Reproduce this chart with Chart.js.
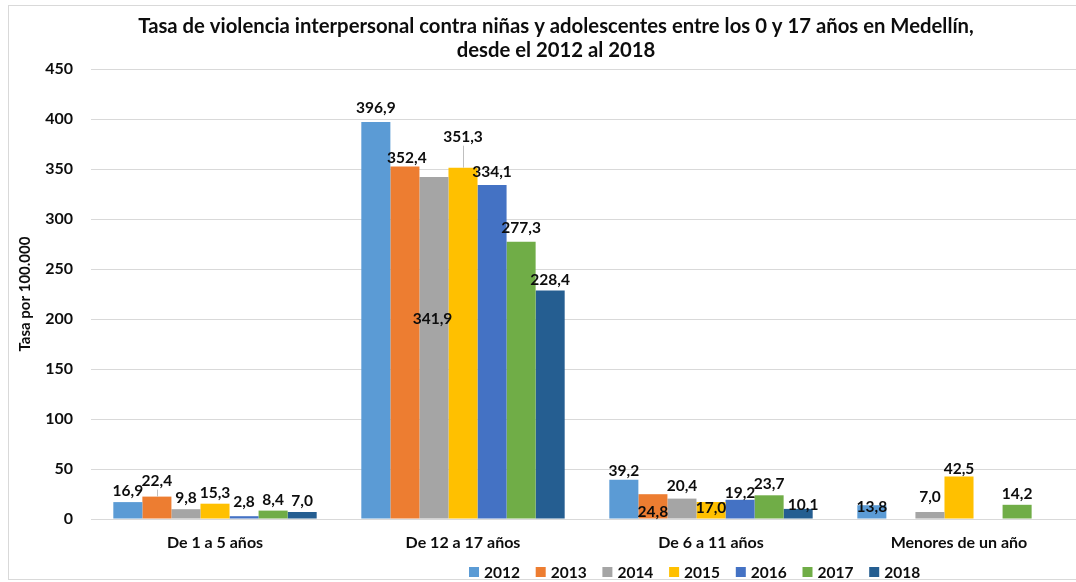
<!DOCTYPE html>
<html><head><meta charset="utf-8">
<script src="https://cdn.jsdelivr.net/npm/chart.js@4"></script>
<style>html,body{margin:0;padding:0;overflow:hidden;background:#fff;} canvas{display:block;}</style>
</head><body>
<canvas id="c" width="1112" height="582"></canvas>
<script>
const titleLines = ["Tasa de violencia interpersonal contra niñas y adolescentes entre los 0 y 17 años en Medellín,", "desde el 2012 al 2018"];
const categories = ["De 1 a 5 años", "De 12 a 17 años", "De 6 a 11 años", "Menores de un año"];
const years = ["2012", "2013", "2014", "2015", "2016", "2017", "2018"];
const v2012 = [16.9, 396.9, 39.2, 13.8];
const v2013 = [22.4, 352.4, 24.8, null];
const v2014 = [9.8, 341.9, 20.4, 7.0];
const v2015 = [15.3, 351.3, 17.0, 42.5];
const v2016 = [2.8, 334.1, 19.2, null];
const v2017 = [8.4, 277.3, 23.7, 14.2];
const v2018 = [7.0, 228.4, 10.1, null];
const yTicks = [0, 50, 100, 150, 200, 250, 300, 350, 400, 450];
const yAxisTitle = "Tasa por 100.000";

const seriesValues = [v2012, v2013, v2014, v2015, v2016, v2017, v2018];
const colors = ['#5B9BD5', '#ED7D31', '#A5A5A5', '#FFC000', '#4472C4', '#70AD47', '#255E91'];
const FONT = 'Lato';
const TXT = '#0d0d0d';

// label nudges (style only): key "dataset-index" -> [dx, dy, leader]
const labelShift = {
  '1-0': [0, -5, true], '4-0': [0, -3],
  '0-1': [0, -3], '1-1': [2, 2], '2-1': [-1.5, 153], '3-1': [0, -20, true], '4-1': [0, -2], '5-1': [0, -3],
  '0-2': [0, 2], '1-2': [0, 29], '2-2': [0, -2], '3-2': [0, 17], '4-2': [0, 4], '6-2': [5, 7],
  '0-3': [0, 13], '2-3': [0, -4], '3-3': [0, 3]
};

const deco = {
  id: 'deco',
  beforeDraw(chart) {
    const c = chart.ctx;
    c.save();
    c.fillStyle = '#fff';
    c.fillRect(0, 0, chart.width, chart.height);
    c.strokeStyle = '#d9d9d9';
    c.lineWidth = 1;
    c.strokeRect(8.5, 5.5, chart.width + 20, 574);
    c.restore();
  },
  afterDatasetsDraw(chart) {
    const c = chart.ctx;
    c.save();
    c.font = 'bold 15.5px ' + FONT;
    c.textAlign = 'center';
    c.textBaseline = 'middle';
    chart.data.datasets.forEach((ds, di) => {
      const meta = chart.getDatasetMeta(di);
      meta.data.forEach((bar, i) => {
        const v = ds.data[i];
        if (v === null || v === undefined) return;
        const s = labelShift[di + '-' + i] || [0, 0];
        const x = bar.x + s[0];
        const y = bar.y - 11 + s[1];
        if (s[2]) {
          c.strokeStyle = '#bfbfbf';
          c.lineWidth = 1;
          c.beginPath();
          c.moveTo(Math.round(x) + 0.5, y + 9);
          c.lineTo(Math.round(bar.x) + 0.5, bar.y);
          c.stroke();
        }
        c.fillStyle = TXT;
        c.fillText(v.toFixed(1).replace('.', ','), x, y);
      });
    });
    c.restore();
  },
  afterDraw(chart) {
    const c = chart.ctx;
    c.save();
    c.fillStyle = TXT;
    c.textAlign = 'center';
    c.textBaseline = 'middle';
    c.font = 'bold 20.3px ' + FONT;
    c.fillText(titleLines[0], 556, 26);
    c.fillText(titleLines[1], 556, 50);
    // legend
    c.font = 'bold 15.5px ' + FONT;
    c.textAlign = 'left';
    let x = 469;
    chart.data.datasets.forEach((ds) => {
      c.fillStyle = ds.backgroundColor;
      c.fillRect(x, 567, 10, 10);
      c.fillStyle = TXT;
      c.fillText(ds.label, x + 15, 573);
      x += 66.7;
    });
    c.restore();
  }
};

new Chart(document.getElementById('c'), {
  type: 'bar',
  data: {
    labels: categories,
    datasets: years.map((y, k) => ({
      label: y,
      data: seriesValues[k],
      backgroundColor: colors[k],
      borderWidth: 0,
      categoryPercentage: 0.82,
      barPercentage: 1.0
    }))
  },
  options: {
    responsive: false,
    animation: false,
    devicePixelRatio: 1,
    layout: { padding: { top: 69, left: 0, right: 29, bottom: 23 } },
    plugins: { legend: { display: false }, title: { display: false }, tooltip: { enabled: false } },
    scales: {
      x: {
        grid: { display: false, drawTicks: false },
        border: { display: true, color: '#d9d9d9' },
        ticks: { color: TXT, font: { family: FONT, weight: 'bold', size: 16 }, padding: 14, maxRotation: 0 },
        afterFit(s) { s.height = 40; }
      },
      y: {
        min: 0, max: 450,
        afterBuildTicks(s) { s.ticks = yTicks.map(v => ({ value: v })); },
        grid: { color: '#d9d9d9', drawTicks: false },
        border: { display: false },
        ticks: { color: TXT, font: { family: FONT, weight: 'bold', size: 16 }, padding: 18 },
        title: { display: true, text: yAxisTitle, color: TXT, font: { family: FONT, weight: 'bold', size: 15 }, padding: { top: 16, bottom: 0 } },
        afterFit(s) { s.width = 91; }
      }
    }
  },
  plugins: [deco]
});
</script>
</body></html>
